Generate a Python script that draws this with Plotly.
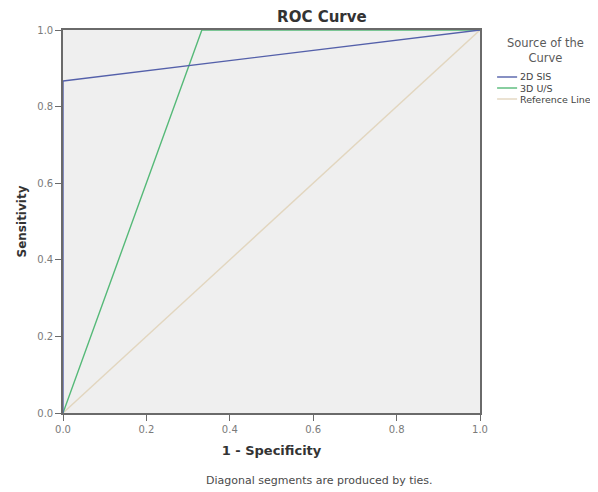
import plotly.graph_objects as go

# Data
series_names = ["2D SIS", "3D U/S", "Reference Line"]
sis_fpr = [0.0, 0.0, 1.0]
sis_tpr = [0.0, 0.867, 1.0]
us_fpr = [0.0, 0.333, 1.0]
us_tpr = [0.0, 1.0, 1.0]
ref_fpr = [0.0, 1.0]
ref_tpr = [0.0, 1.0]
tick_vals = [0.0, 0.2, 0.4, 0.6, 0.8, 1.0]
tick_text = ["0.0", "0.2", "0.4", "0.6", "0.8", "1.0"]

colors = ["#5460aa", "#55b978", "#e2d6bf"]

fig = go.Figure()
fig.add_trace(go.Scatter(x=ref_fpr, y=ref_tpr, mode="lines", name=series_names[2],
                         line=dict(color=colors[2], width=1.4), showlegend=False))
fig.add_trace(go.Scatter(x=us_fpr, y=us_tpr, mode="lines", name=series_names[1],
                         line=dict(color=colors[1], width=1.4), showlegend=False))
fig.add_trace(go.Scatter(x=sis_fpr, y=sis_tpr, mode="lines", name=series_names[0],
                         line=dict(color=colors[0], width=1.4), showlegend=False))

font = "DejaVu Sans, Verdana, sans-serif"
axis_common = dict(range=[0, 1], tickvals=tick_vals, ticktext=tick_text,
                   showgrid=False, zeroline=False, showline=True, mirror=True,
                   linecolor="#6a6a6a", linewidth=1.6, ticks="outside", ticklen=6,
                   tickcolor="#6a6a6a", tickwidth=1.3,
                   tickfont=dict(size=10, color="#7a7a7a", family=font))

# Plot area in page px: x 63..480, y 30..413 (page has 8px body margin)
fig.update_layout(
    width=598, height=492,
    margin=dict(l=55, r=126, t=22, b=87),
    paper_bgcolor="white", plot_bgcolor="#efefef",
    title=dict(text="<b>ROC Curve</b>", x=0.45, xanchor="left", y=0.982, yanchor="middle",
               font=dict(size=15, color="#333333", family=font)),
    xaxis=dict(**axis_common, title=dict(text="<b>1 - Specificity</b>", standoff=12,
                                         font=dict(size=13, color="#333333", family=font))),
    yaxis=dict(**axis_common, title=dict(text="<b>Sensitivity</b>", standoff=8,
                                         font=dict(size=12, color="#333333", family=font))),
    showlegend=False,
)

# Footnote
fig.add_annotation(text="Diagonal segments are produced by ties.", xref="paper", yref="paper",
                   x=0.616, y=-0.175, showarrow=False, yanchor="middle", xanchor="center",
                   font=dict(size=11, color="#4a4a4a", family=font))

# Manual legend
fig.add_annotation(text="Source of the<br>Curve", xref="paper", yref="paper",
                   x=1.158, y=0.9465, showarrow=False, yanchor="middle", xanchor="center",
                   align="center", font=dict(size=11.5, color="#5a5a5a", family=font))
leg_y_px = [77, 88, 99]
for i, (name, c) in enumerate(zip(series_names, colors)):
    yp = (413 - leg_y_px[i]) / 383
    fig.add_shape(type="line", xref="paper", yref="paper", x0=1.041, x1=1.089, y0=yp, y1=yp,
                  line=dict(color=c, width=1.4))
    fig.add_annotation(text=name, xref="paper", yref="paper", x=1.092, y=yp,
                       xanchor="left", yanchor="middle", showarrow=False,
                       font=dict(size=9.5, color="#444444", family=font))

fig.write_html("out.html")
